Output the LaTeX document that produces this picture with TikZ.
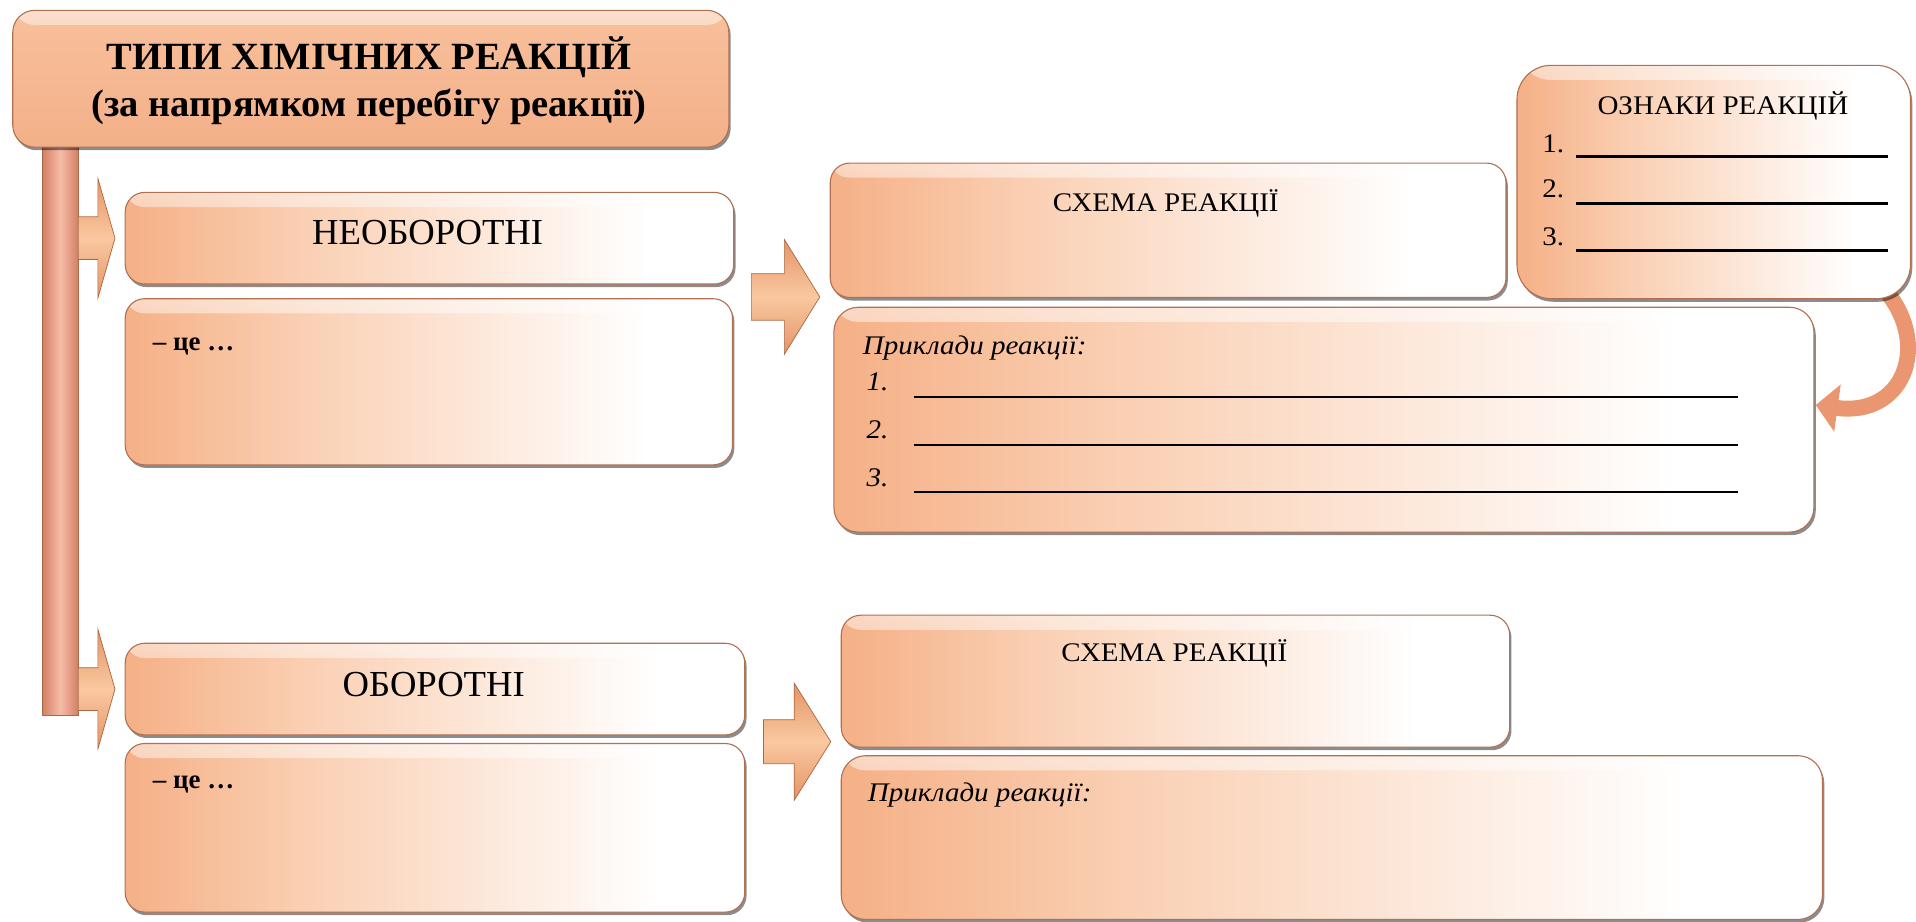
\documentclass[tikz,border=0pt]{standalone}
\usepackage{fontspec}
\setmainfont{Liberation Serif}
\newfontfamily\widefont[FakeStretch=1.08]{Liberation Serif}
\usetikzlibrary{calc,shadows,arrows.meta,backgrounds,fadings}

\definecolor{peach}{RGB}{245,176,134}
\definecolor{peachlight}{RGB}{250,208,180}
\definecolor{edge}{RGB}{176,112,82}
\definecolor{titletop}{RGB}{248,192,156}
\definecolor{titlebot}{RGB}{243,176,136}
\definecolor{barmid}{RGB}{246,188,168}
\definecolor{baredge}{RGB}{212,128,102}
\definecolor{arrlight}{RGB}{250,200,160}
\definecolor{arrdark}{RGB}{228,148,102}
\definecolor{arredge}{RGB}{170,105,70}
\definecolor{curvec}{RGB}{234,150,112}

\pgfdeclarehorizontalshading{panelshade}{100bp}{%
  color(0bp)=(peach); color(25bp)=(peach); color(40bp)=(peachlight);
  color(68bp)=(white); color(100bp)=(white)}

\tikzset{
  gloss/.style={path picture={\fill[white, opacity=0.5, path fading=south]
    (path picture bounding box.north west) rectangle
    ([yshift=-12pt]path picture bounding box.north east);}},
  bevel/.style={drop shadow={fill=black, opacity=0.45, shadow xshift=1.5pt, shadow yshift=-2.5pt}},
  panel/.style={anchor=north west, inner sep=0pt, shading=panelshade,
    draw=edge, line width=0.9pt, rounded corners=16pt, bevel, gloss},
  titlepanel/.style={anchor=north west, inner sep=0pt,
    top color=titletop, bottom color=titlebot,
    draw=edge, line width=0.9pt, rounded corners=18pt, bevel, gloss},
  barbox/.style={anchor=north west, inner sep=0pt,
    left color=baredge, right color=baredge, middle color=barmid,
    draw=arredge, line width=0.6pt},
  arrowbody/.style={top color=arrdark, bottom color=arrdark, middle color=arrlight,
    draw=arredge, line width=0.6pt},
  curvelink/.style={draw=curvec, line width=13pt,
    -{Triangle[length=18pt,width=38pt]}},
  ttl/.style={anchor=base, inner sep=0pt, font=\fontsize{31.5}{36}\selectfont\bfseries},
  kind/.style={anchor=base, inner sep=0pt, font=\fontsize{30}{36}\selectfont},
  head/.style={anchor=base, inner sep=0pt, font=\widefont\fontsize{22}{26}\selectfont},
  deftxt/.style={anchor=base west, inner sep=0pt, font=\fontsize{22}{26}\selectfont\bfseries},
  num/.style={anchor=base west, inner sep=0pt, font=\widefont\fontsize{22}{26}\selectfont},
  inum/.style={anchor=base west, inner sep=0pt, font=\widefont\fontsize{22}{26}\selectfont\itshape},
  rule/.style={draw=black, line width=1.8pt}
}

% block arrow: start point, shaft length, head length, shaft half, head half
\newcommand\blockarrow[5]{%
  \path[arrowbody] (#1) ++(0,#4) -- ++(#2,0) -- ++(0,#5-#4) -- ++(#3,-#5)
    -- ++(-#3,-#5) -- ++(0,#5-#4) -- ++(-#2,0) -- cycle;}

\begin{document}
\begin{tikzpicture}[x=1pt,y=-1pt]
\useasboundingbox (0,0) rectangle (1568,754);

% vertical trunk and heading
\node[barbox, minimum width=29pt, minimum height=467pt] (bar) at (34.5,118) {};
\node[titlepanel, minimum width=586pt, minimum height=112pt] (title) at (10,8) {};
\node[ttl] (title1) at (302,57) {ТИПИ ХІМІЧНИХ РЕАКЦІЙ};
\node[ttl] (title2) at (302,95) {(за напрямком перебігу реакції)};

% left column
\node[panel, minimum width=498pt, minimum height=75pt] (neo) at (102,157) {};
\node[kind] (neot) at (350,200) {НЕОБОРОТНІ};
\node[panel, minimum width=497pt, minimum height=136pt] (def1) at (102,244) {};
\node[deftxt] (def1t) at (125,287) {– це …};

\node[panel, minimum width=507pt, minimum height=75pt] (obo) at (102,526) {};
\node[kind] (obot) at (355,570) {ОБОРОТНІ};
\node[panel, minimum width=507pt, minimum height=138pt] (def2) at (102,608) {};
\node[deftxt] (def2t) at (125,645) {– це …};

% branch arrows from the trunk
\coordinate (b1) at (bar.east |- neo.west);
\coordinate (b2) at (bar.east |- obo.west);
\blockarrow{b1}{16}{14}{17.5}{49}
\blockarrow{b2}{16}{14}{17.5}{49}

% right column, upper group
\node[panel, minimum width=553pt, minimum height=110pt] (sch1) at (679,133) {};
\node[head] (sch1t) at (954,173) {СХЕМА РЕАКЦІЇ};

\node[panel, rounded corners=28pt, minimum width=322pt, minimum height=191pt] (ozn) at (1241,53) {};
\node[head] (ozt) at (1410,94) {ОЗНАКИ РЕАКЦІЙ};
\node[num] (oz1) at (1262,125) {1.};
\node[num] (oz2) at (1262,162) {2.};
\node[num] (oz3) at (1262,201) {3.};
\draw[rule] (1290,128) -- (1545,128);
\draw[rule] (1290,166.5) -- (1545,166.5);
\draw[rule] (1290,205) -- (1545,205);

\node[panel, rounded corners=20pt, minimum width=802pt, minimum height=184pt] (pr1) at (682,251) {};
\node[inum] (pr1t) at (706,290) {Приклади реакції:};
\node[inum] (p1) at (709,319.5) {1.};
\node[inum] (p2) at (709,359) {2.};
\node[inum] (p3) at (709,398) {3.};
\draw[rule] (748,325) -- (1422,325);
\draw[rule] (748,364) -- (1422,364);
\draw[rule] (748,402.5) -- (1422,402.5);

% link from the signs box to the examples box
\begin{pgfonlayer}{background}
\draw[curvelink] ($(ozn.south east)+(-20,-6)$) .. controls +(36,44) and +(72,10) .. ($(pr1.east)+(1,-12)$);
\end{pgfonlayer}

% right column, lower group
\node[panel, minimum width=547pt, minimum height=108pt] (sch2) at (688,503) {};
\node[head] (sch2t) at (961,541) {СХЕМА РЕАКЦІЇ};
\node[panel, rounded corners=20pt, minimum width=803pt, minimum height=134pt] (pr2) at (688,618) {};
\node[inum] (pr2t) at (710,656) {Приклади реакції:};

% arrows from the left column to the right column
\coordinate (c1) at ($(def1.north east)+(15,-1)$);
\coordinate (c2) at ($(def2.north east)+(15,-1)$);
\blockarrow{c1}{27}{29}{19}{47}
\blockarrow{c2}{25}{30}{18}{48}

\end{tikzpicture}
\end{document}
